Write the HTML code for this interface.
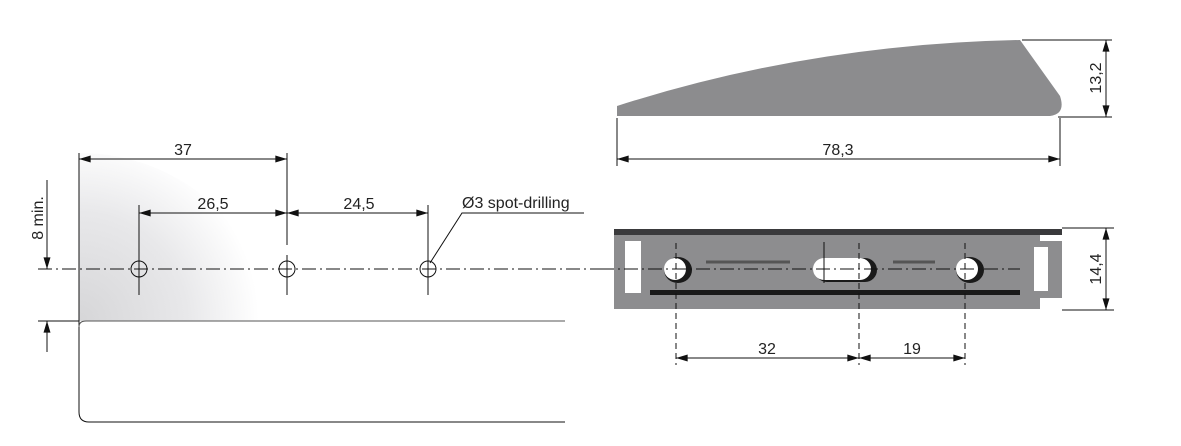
<!DOCTYPE html>
<html><head><meta charset="utf-8"><style>
html,body{margin:0;padding:0;background:#fff}
svg{display:block}
text{font-family:"Liberation Sans",sans-serif;font-size:16px;fill:#222}
</style></head><body>
<svg width="1181" height="446" viewBox="0 0 1181 446" xmlns="http://www.w3.org/2000/svg">
<defs>
<radialGradient id="g" cx="79" cy="321" r="180" gradientUnits="userSpaceOnUse">
<stop offset="0" stop-color="#d6d6d8"/><stop offset="0.6" stop-color="#e8e8ea"/><stop offset="1" stop-color="#fff"/>
</radialGradient>
<marker id="a" viewBox="0 0 10 6" refX="10" refY="3" markerWidth="16" markerHeight="7" markerUnits="userSpaceOnUse" orient="auto-start-reverse"><path d="M0,0 L10,3 L0,6z" fill="#111"/></marker>
</defs>
<g stroke="#111" stroke-width="1" fill="none">
<path d="M79,153 L79,321 L265,321 A186,168 0 0 0 79,153z" fill="url(#g)" stroke="none"/>
<path d="M79,153 V412 Q79,422 89,422 H565"/>
<path d="M79,327 Q79,321 86,321 H565" stroke="#555"/>
<line x1="38" y1="321" x2="79" y2="321"/>
<line x1="38" y1="269" x2="600" y2="269" stroke-dasharray="14,4,2,4"/>
<circle cx="139" cy="269" r="8"/><circle cx="287" cy="269" r="8"/><circle cx="428" cy="269" r="8"/>
<line x1="139" y1="205" x2="139" y2="295"/>
<line x1="287" y1="153" x2="287" y2="245"/><line x1="287" y1="255" x2="287" y2="295"/>
<line x1="428" y1="205" x2="428" y2="295"/>
<line x1="79" y1="159" x2="287" y2="159" marker-start="url(#a)" marker-end="url(#a)"/>
<line x1="139" y1="213" x2="287" y2="213" marker-start="url(#a)" marker-end="url(#a)"/>
<line x1="287" y1="213" x2="428" y2="213" marker-start="url(#a)" marker-end="url(#a)"/>
<polyline points="430,263 462,213 584,213"/>
<line x1="47" y1="180" x2="47" y2="269" marker-end="url(#a)"/>
<line x1="47" y1="352" x2="47" y2="321" marker-end="url(#a)"/>
<!-- profile -->
<path d="M617,116 L617,106 Q810,44 1020,40 L1060,96 Q1066,114 1050,116 L617,116z" fill="#8c8c8e" stroke="none"/>
<line x1="1022" y1="40" x2="1112" y2="40"/><line x1="1058" y1="117" x2="1112" y2="117"/>
<line x1="1106" y1="40" x2="1106" y2="117" marker-start="url(#a)" marker-end="url(#a)"/>
<line x1="617" y1="118" x2="617" y2="166"/><line x1="1060" y1="118" x2="1060" y2="166"/>
<line x1="617" y1="159" x2="1060" y2="159" marker-start="url(#a)" marker-end="url(#a)"/>
<!-- bar -->
<rect x="614" y="229" width="448" height="80" fill="#8d8d8f" stroke="none"/>
<rect x="614" y="229" width="448" height="6" fill="#3a3a3c" stroke="none"/>
<rect x="650" y="290" width="370" height="5" fill="#1a1a1a" stroke="none"/>
<rect x="625" y="241" width="16" height="52" fill="#fff" stroke="none"/>
<rect x="1034" y="247" width="14" height="44" fill="#fff" stroke="none"/>
<rect x="1040" y="235" width="22" height="6" fill="#fff" stroke="none"/>
<rect x="1040" y="298" width="22" height="11" fill="#fff" stroke="none"/>
<ellipse cx="678" cy="270" rx="14" ry="13" fill="#1a1a1a" stroke="none"/>
<ellipse cx="675" cy="269" rx="11" ry="11" fill="#fff" stroke="none"/>
<rect x="815" y="258" width="62" height="24" rx="12" fill="#1a1a1a" stroke="none"/>
<rect x="813" y="258" width="58" height="22" rx="11" fill="#fff" stroke="none"/>
<ellipse cx="970" cy="270" rx="14" ry="13" fill="#1a1a1a" stroke="none"/>
<ellipse cx="967" cy="269" rx="11" ry="11" fill="#fff" stroke="none"/>
<line x1="706" y1="262" x2="790" y2="262" stroke="#555" stroke-width="3"/>
<line x1="893" y1="262" x2="935" y2="262" stroke="#555" stroke-width="3"/>
<line x1="600" y1="269" x2="1020" y2="269" stroke-dasharray="14,4,2,4"/>
<line x1="676" y1="243" x2="676" y2="365" stroke-dasharray="6,4"/>
<line x1="859" y1="243" x2="859" y2="365" stroke-dasharray="6,4"/>
<line x1="965" y1="243" x2="965" y2="365" stroke-dasharray="6,4"/>
<line x1="824" y1="242" x2="824" y2="283"/>
<line x1="1062" y1="228" x2="1114" y2="228"/><line x1="1062" y1="310" x2="1114" y2="310"/>
<line x1="1106" y1="228" x2="1106" y2="310" marker-start="url(#a)" marker-end="url(#a)"/>
<line x1="676" y1="358" x2="859" y2="358" marker-start="url(#a)" marker-end="url(#a)"/>
<line x1="859" y1="358" x2="965" y2="358" marker-start="url(#a)" marker-end="url(#a)"/>
</g>
<text x="183" y="155" text-anchor="middle">37</text>
<text x="213" y="209" text-anchor="middle">26,5</text>
<text x="359" y="209" text-anchor="middle">24,5</text>
<text x="462" y="208">Ø3 spot-drilling</text>
<text transform="translate(43,218) rotate(-90)" text-anchor="middle">8 min.</text>
<text x="838" y="155" text-anchor="middle">78,3</text>
<text transform="translate(1101,78) rotate(-90)" text-anchor="middle">13,2</text>
<text transform="translate(1101,269) rotate(-90)" text-anchor="middle">14,4</text>
<text x="767" y="354" text-anchor="middle">32</text>
<text x="912" y="354" text-anchor="middle">19</text>
</svg>
</body></html>
